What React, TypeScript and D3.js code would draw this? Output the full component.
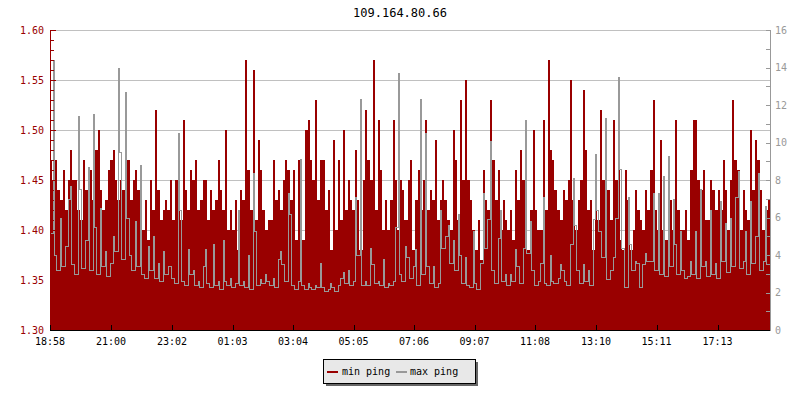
import React from 'react';
import * as d3 from 'd3';

const title = '109.164.80.66';
const seriesNames = ['min ping', 'max ping'];
const tickLabels = ['18:58', '21:00', '23:02', '01:03', '03:04', '05:05', '07:06', '09:07', '11:08', '13:10', '15:11', '17:13'];
const leftTicks = [1.3, 1.35, 1.4, 1.45, 1.5, 1.55, 1.6];
const rightTicks = [0, 2, 4, 6, 8, 10, 12, 14, 16];
const startTime = '18:58';
const stepMinutes = 5;

// min ping (ms), left axis, one value per 5 minutes
const minPing = [
  1.47,1.45,1.47,1.44,1.43,1.46,1.42,1.45,1.48,1.45,1.45,1.42,1.41,1.47,1.44,1.45,1.46,1.43,1.48,1.50,1.44,1.42,1.43,1.46,1.47,1.48,1.45,1.43,1.45,1.44,1.51,1.47,1.43,1.45,1.46,1.44,1.42,1.40,1.43,1.39,1.45,1.42,1.52,1.44,1.41,1.42,1.43,1.42,
  1.45,1.41,1.45,1.45,1.41,1.51,1.44,1.42,1.46,1.45,1.47,1.42,1.43,1.45,1.45,1.41,1.44,1.42,1.43,1.47,1.44,1.42,1.50,1.40,1.42,1.40,1.43,1.38,1.44,1.43,1.57,1.46,1.42,1.56,1.41,1.49,1.46,1.42,1.40,1.41,1.41,1.47,1.43,1.44,1.42,1.45,1.47,1.46,
  1.43,1.46,1.39,1.47,1.42,1.39,1.50,1.51,1.47,1.45,1.53,1.43,1.47,1.47,1.42,1.44,1.38,1.49,1.40,1.47,1.41,1.50,1.42,1.45,1.43,1.42,1.48,1.43,1.38,1.45,1.52,1.47,1.45,1.57,1.42,1.51,1.46,1.40,1.43,1.40,1.43,1.51,1.45,1.40,1.45,1.44,1.41,1.45,
  1.47,1.38,1.43,1.46,1.42,1.45,1.51,1.42,1.44,1.43,1.49,1.41,1.43,1.45,1.43,1.41,1.40,1.50,1.47,1.41,1.53,1.45,1.55,1.45,1.43,1.40,1.38,1.41,1.37,1.46,1.43,1.42,1.53,1.47,1.43,1.46,1.40,1.43,1.41,1.40,1.42,1.39,1.46,1.43,1.48,1.45,1.42,1.38,
  1.42,1.50,1.42,1.40,1.40,1.51,1.42,1.57,1.48,1.47,1.44,1.42,1.41,1.44,1.43,1.45,1.55,1.43,1.40,1.43,1.45,1.54,1.48,1.42,1.43,1.38,1.42,1.41,1.52,1.45,1.46,1.44,1.41,1.51,1.45,1.50,1.39,1.38,1.46,1.43,1.38,1.40,1.44,1.42,1.41,1.40,1.44,1.42,
  1.46,1.53,1.42,1.40,1.49,1.40,1.39,1.46,1.43,1.40,1.51,1.42,1.40,1.40,1.42,1.39,1.46,1.51,1.51,1.45,1.44,1.46,1.41,1.41,1.45,1.44,1.42,1.44,1.42,1.47,1.44,1.40,1.45,1.53,1.47,1.46,1.40,1.44,1.42,1.41,1.50,1.44,1.49,1.47,1.44,1.40,1.42,1.43,
];

// max ping (ms), right axis
const maxPing = [
  5.2,14.4,4.0,3.2,6.0,3.4,4.5,7.0,7.7,3.5,3.0,11.4,7.5,3.3,4.8,8.7,3.2,11.5,5.5,3.0,6.5,3.4,4.2,2.9,3.6,5.0,4.2,14.0,9.5,3.8,12.7,6.0,4.0,3.2,5.8,3.4,8.8,3.0,2.8,4.5,3.2,5.0,2.8,3.6,2.6,4.2,3.0,3.4,
  3.4,2.8,2.5,10.5,6.4,2.6,2.4,4.3,3.0,3.2,2.4,2.6,2.3,3.4,4.3,2.5,2.3,4.6,2.4,2.6,2.2,4.8,2.6,2.4,2.8,2.3,2.5,6.4,2.4,2.6,2.3,4.0,2.2,8.4,5.3,2.4,2.7,2.5,3.0,2.6,2.4,2.8,2.3,3.8,4.2,3.5,2.6,7.3,
  6.2,2.4,2.2,2.6,9.1,2.4,2.2,2.5,2.3,2.2,2.4,2.3,3.6,2.3,2.1,2.2,2.5,2.3,2.1,2.4,2.8,3.1,2.5,3.2,2.4,2.6,7.1,4.0,12.3,2.4,2.6,2.4,4.4,3.5,2.5,2.6,2.4,3.8,2.3,2.5,2.4,2.6,5.5,13.7,3.0,2.6,4.5,3.9,
  2.8,3.4,4.3,2.4,12.3,3.0,10.5,3.4,2.5,3.4,2.3,2.5,6.4,4.4,5.0,5.6,3.6,4.8,3.2,6.2,4.0,2.5,3.9,2.4,2.3,5.3,2.5,2.2,3.6,7.3,4.4,5.9,10.1,3.2,2.5,4.9,6.4,2.6,3.0,2.4,3.0,2.6,4.3,3.4,2.5,4.4,11.2,4.1,
  5.8,3.2,2.4,2.6,3.6,7.1,2.5,2.4,4.0,2.6,2.5,2.8,3.5,3.2,2.6,2.4,4.6,8.1,5.6,3.2,2.5,3.5,2.6,3.2,2.4,5.9,9.4,6.4,5.3,3.9,11.3,2.7,3.2,3.9,6.0,13.5,8.6,4.4,2.3,7.1,4.6,3.2,3.7,3.6,2.3,3.5,4.1,3.7,
  3.7,7.3,3.2,7.3,3.0,8.2,2.9,9.3,3.4,7.0,4.6,3.0,5.3,3.2,2.8,2.9,3.7,3.0,5.3,2.8,7.5,3.4,3.7,2.9,6.4,3.0,3.6,2.8,6.9,3.7,5.7,3.1,6.0,3.4,7.1,8.5,3.3,3.7,5.3,3.0,6.9,3.6,5.0,8.4,3.2,3.7,6.6,3.5,
];

const RED = '#990000';
const GRAY = '#999999';
const FONT = '"DejaVu Sans Mono", monospace';

function parseTime(s: string, base: Date): Date {
  const [h, m] = s.split(':').map(Number);
  const d = new Date(2024, 0, 1, h, m);
  if (d < base) d.setDate(2);
  return d;
}

// builds a path where each sample peak is a narrow column of width pw px,
// and the run between samples sits at the lower of the two neighbours
function peakPath(xs: number[], ys: number[], pw: number, xEnd: number): [number, number][] {
  const pts: [number, number][] = [];
  const n = xs.length;
  for (let i = 0; i < n; i++) {
    const xi = xs[i];
    const yi = ys[i];
    const yNextLow = i < n - 1 ? Math.max(yi, ys[i + 1]) : yi;
    if (i === 0) pts.push([xi, yi]);
    else {
      const yPrevLow = Math.max(ys[i - 1], yi);
      pts.push([xi, yPrevLow]);
      pts.push([xi, yi]);
    }
    pts.push([xi + pw, yi]);
    pts.push([xi + pw, yNextLow]);
  }
  pts.push([xEnd, ys[n - 1]]);
  return pts;
}

export default function App() {
  const L = 50, R = 770, T = 30, B = 330;
  const start = parseTime(startTime, new Date(2024, 0, 1, 0, 0));
  const n = minPing.length;
  const end = new Date(start.getTime() + n * stepMinutes * 60000);
  const times = minPing.map((_, i) => new Date(start.getTime() + i * stepMinutes * 60000));
  const x = d3.scaleTime().domain([start, end]).range([L, R]);
  const yL = d3.scaleLinear().domain([1.3, 1.6]).range([B, T]);
  const yR = d3.scaleLinear().domain([0, 16]).range([B, T]);

  const xs = times.map(t => Math.round(x(t)));
  const redPts = peakPath(xs, minPing.map(v => Math.round(yL(v))), 2, R);
  const grayPts = peakPath(xs.map(v => v + 0.5), maxPing.map(v => Math.round(yR(v)) + 0.5), 1, R);

  const redD = 'M' + L + ',' + B + 'L' + redPts.map(p => p[0] + ',' + p[1]).join('L') + 'L' + R + ',' + B + 'Z';
  const grayD = d3.line()(grayPts) || '';

  const tickTimes = tickLabels.map(s => parseTime(s, start));
  const minorLeft = d3.range(0, 31).map(i => 1.3 + i * 0.01);
  const minorRight = d3.range(0, 17);

  return (
    <svg width={800} height={400} style={{ position: 'absolute', left: 0, top: 0, background: '#fff' }}>
      <rect x={0} y={0} width={800} height={400} fill="#fff" />
      <text x={400} y={17} textAnchor="middle" fontFamily={FONT} fontSize={12} fill="#000">{title}</text>

      {/* grid */}
      {leftTicks.slice(1).map((v, i) => (
        <line key={'g' + i} x1={L} x2={R} y1={Math.round(yL(v)) + 0.5} y2={Math.round(yL(v)) + 0.5} stroke="#c0c0c0" strokeWidth={1} />
      ))}

      {/* data */}
      <path d={redD} fill={RED} shapeRendering="crispEdges" />
      <path d={grayD} fill="none" stroke={GRAY} strokeWidth={1} shapeRendering="crispEdges" />

      {/* left axis */}
      <line x1={L + 0.5} x2={L + 0.5} y1={T} y2={B} stroke={RED} />
      {minorLeft.map((v, i) => {
        const y = Math.round(yL(v)) + 0.5;
        const major = i % 5 === 0;
        return <line key={'lt' + i} x1={L} x2={L + (major ? 6 : 4)} y1={y} y2={y} stroke={RED} />;
      })}
      {leftTicks.map((v, i) => (
        <text key={'ll' + i} x={44} y={yL(v)} dy="0.35em" textAnchor="end" fontFamily={FONT} fontSize={10} fill={RED}>{v.toFixed(2)}</text>
      ))}

      {/* right axis */}
      <line x1={R + 0.5} x2={R + 0.5} y1={T} y2={B + 1} stroke={GRAY} />
      {minorRight.map((v, i) => {
        const y = Math.round(yR(v)) + 0.5;
        return <line key={'rt' + i} x1={R - 4} x2={R} y1={y} y2={y} stroke={GRAY} />;
      })}
      {rightTicks.map((v, i) => (
        <text key={'rl' + i} x={775} y={yR(v)} dy="0.35em" textAnchor="start" fontFamily={FONT} fontSize={10} fill={GRAY}>{v}</text>
      ))}

      {/* x axis */}
      <line x1={L} x2={R} y1={B + 0.5} y2={B + 0.5} stroke="#000" />
      {tickTimes.map((t, i) => {
        const xx = Math.round(x(t)) + 0.5;
        return (
          <g key={'xt' + i}>
            <line x1={xx} x2={xx} y1={B} y2={B - 5} stroke="#000" />
            <text x={x(t)} y={345} textAnchor="middle" fontFamily={FONT} fontSize={10} fill="#000">{tickLabels[i]}</text>
          </g>
        );
      })}

      {/* legend */}
      <rect x={326} y={362} width={152} height={24} fill="#666" />
      <rect x={323.5} y={359.5} width={152} height={24} fill="#e8e8e8" stroke="#000" />
      <line x1={327} x2={338} y1={372} y2={372} stroke={RED} strokeWidth={2} />
      <text x={342} y={372} dy="0.32em" fontFamily={FONT} fontSize={10} fill="#000">{seriesNames[0]}</text>
      <line x1={396} x2={407} y1={372} y2={372} stroke={GRAY} strokeWidth={2} />
      <text x={410} y={372} dy="0.32em" fontFamily={FONT} fontSize={10} fill="#000">{seriesNames[1]}</text>
    </svg>
  );
}
